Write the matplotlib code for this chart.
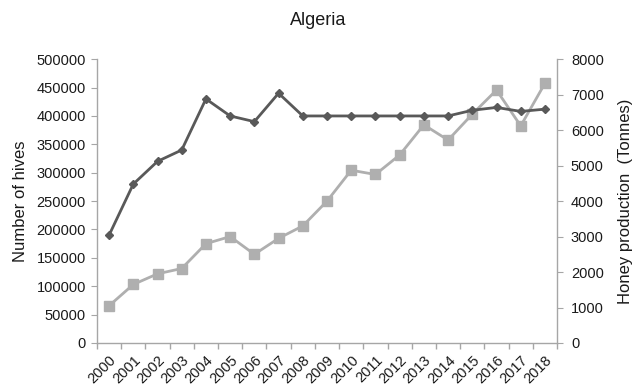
import matplotlib
matplotlib.use("Agg")
import matplotlib.pyplot as plt
import numpy as np

plt.rcParams['font.family'] = ['Liberation Sans', 'DejaVu Sans']

years = [str(y) for y in range(2000, 2019)]
hives = [190000, 280000, 320000, 340000, 430000, 400000, 390000, 440000,
         400000, 400000, 400000, 400000, 400000, 400000, 400000, 410000,
         415000, 408000, 412000]
honey = [1050, 1650, 1950, 2100, 2800, 3000, 2500, 2950, 3300, 4000,
         4870, 4750, 5300, 6150, 5720, 6450, 7130, 6120, 7320]

axis_grey = '#a6a6a6'
dark = '#595959'
light = '#afafaf'
text_col = '#1a1a1a'

fig = plt.figure(figsize=(6.33, 3.92), dpi=100)
ax = fig.add_axes([0.1532, 0.125, 0.7268, 0.724])
ax2 = ax.twinx()

x = np.arange(len(years))
ax2.plot(x, honey, color=light, lw=2, marker='s', ms=7, zorder=2)
ax.plot(x, hives, color=dark, lw=2, marker='D', ms=4.5, zorder=3)
ax.set_zorder(ax2.get_zorder() + 1)
ax.patch.set_visible(False)

ax.set_xlim(-0.5, len(years) - 0.5)
ax.set_ylim(0, 500000)
ax2.set_ylim(0, 8000)
ax.set_yticks(np.arange(0, 500001, 50000))
ax2.set_yticks(np.arange(0, 8001, 1000))

ax.set_xticks(x)
ax.set_xticklabels(years, rotation=45, ha='right', rotation_mode='anchor',
                   fontsize=10.5, color=text_col)
ax.set_xticks(np.arange(-0.5, len(years), 1), minor=True)
ax.tick_params(axis='x', which='major', length=0, pad=7)
ax.tick_params(axis='x', which='minor', length=4, color=axis_grey, width=1)

ax.tick_params(axis='y', length=4, color=axis_grey, labelsize=10.5, pad=4,
               labelcolor=text_col)
ax2.tick_params(axis='y', length=4, color=axis_grey, labelsize=10.5, pad=6,
                labelcolor=text_col)

for a in (ax, ax2):
    a.spines['top'].set_visible(False)
    for s in ('left', 'right', 'bottom'):
        a.spines[s].set_color(axis_grey)
        a.spines[s].set_linewidth(1)
ax.spines['right'].set_visible(False)
ax2.spines['left'].set_visible(False)
ax2.spines['bottom'].set_visible(False)

ax.set_ylabel('Number of hives', fontsize=12, labelpad=6, color=text_col)
ax2.set_ylabel('Honey production  (Tonnes)', fontsize=12, labelpad=10,
               color=text_col)
fig.text(0.503, 0.947, 'Algeria', ha='center', va='center', fontsize=13,
         color=text_col)

fig.savefig('out.png', dpi=100)
